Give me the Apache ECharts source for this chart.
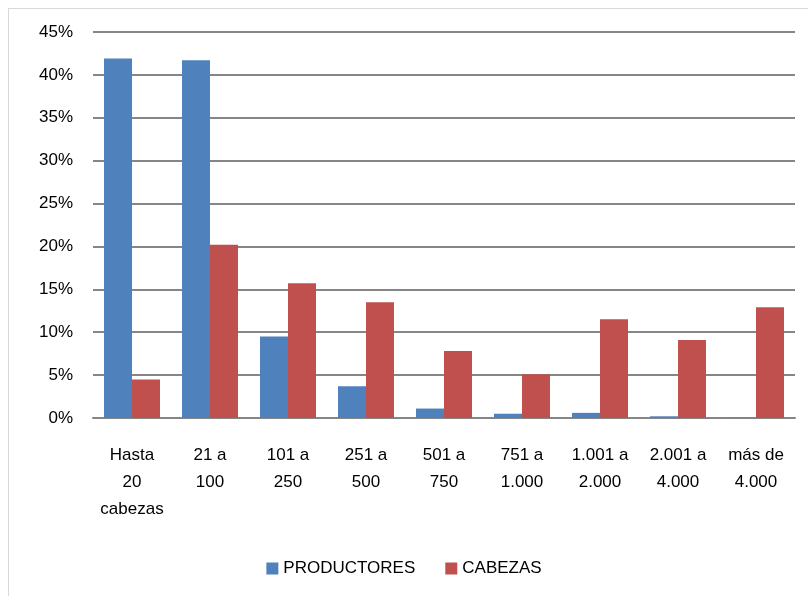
<!DOCTYPE html>
<html>
<head>
<meta charset="utf-8">
<script src="https://cdn.jsdelivr.net/npm/echarts@6/dist/echarts.min.js"></script>
<style>
html,body{margin:0;padding:0;background:#fff;}
#frame{position:absolute;left:8px;top:8px;width:820px;height:620px;border:1px solid #d9d9d9;box-sizing:border-box;}
#chart{position:absolute;left:0;top:0;width:808px;height:596px;}
</style>
</head>
<body>
<div id="frame"></div>
<div id="chart"></div>
<script>
var categories = ["Hasta\n20\ncabezas", "21 a\n100", "101 a\n250", "251 a\n500", "501 a\n750", "751 a\n1.000", "1.001 a\n2.000", "2.001 a\n4.000", "más de\n4.000"];
var productores = [41.9, 41.7, 9.5, 3.7, 1.1, 0.5, 0.6, 0.2, 0.02];
var cabezas = [4.5, 20.2, 15.7, 13.5, 7.8, 5.1, 11.5, 9.1, 12.9];
var yTicks = [0, 5, 10, 15, 20, 25, 30, 35, 40, 45];

var chart = echarts.init(document.getElementById('chart'), null, {renderer: 'canvas'});
var font = '"Liberation Sans", Arial, sans-serif';
chart.setOption({
  animation: false,
  textStyle: {fontFamily: font},
  grid: {left: 93, right: 13, top: 32, bottom: 178, containLabel: false},
  legend: {
    data: ['PRODUCTORES', 'CABEZAS'],
    bottom: 14, left: 'center',
    itemWidth: 12, itemHeight: 12, itemGap: 30,
    icon: 'rect',
    textStyle: {fontSize: 17, color: '#000', fontFamily: font}
  },
  xAxis: {
    type: 'category',
    data: categories,
    axisLine: {show: true, lineStyle: {color: '#868686', width: 2}},
    axisTick: {show: false},
    axisLabel: {color: '#000', fontSize: 17, lineHeight: 27, margin: 24, interval: 0, fontFamily: font}
  },
  yAxis: {
    type: 'value',
    min: yTicks[0], max: yTicks[yTicks.length - 1], interval: 5,
    axisLine: {show: false},
    axisTick: {show: false},
    splitLine: {show: true, lineStyle: {color: '#868686', width: 2}},
    axisLabel: {color: '#000', fontSize: 17, margin: 20, formatter: function (v) { return v + '%'; }, fontFamily: font}
  },
  series: [
    {name: 'PRODUCTORES', type: 'bar', data: productores, barWidth: 28, barGap: '0%',
     itemStyle: {color: '#4f81bd'}},
    {name: 'CABEZAS', type: 'bar', data: cabezas, barWidth: 28, barGap: '0%',
     itemStyle: {color: '#c0504d'}}
  ]
});
</script>
</body>
</html>
